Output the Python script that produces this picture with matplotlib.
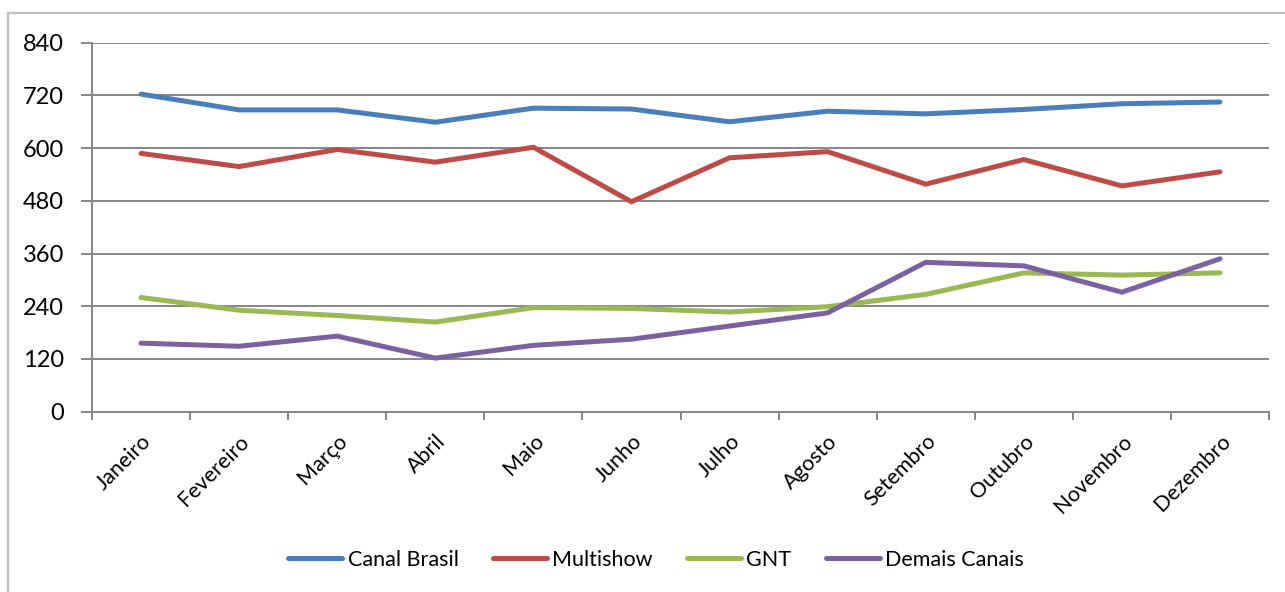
import matplotlib
matplotlib.use("Agg")
import matplotlib.pyplot as plt
from matplotlib.patches import Rectangle
from matplotlib.transforms import ScaledTranslation
import numpy as np

months = ["Janeiro", "Fevereiro", "Março", "Abril", "Maio", "Junho",
          "Julho", "Agosto", "Setembro", "Outubro", "Novembro", "Dezembro"]
canal_brasil = [723, 687, 687, 659, 691, 689, 660, 684, 678, 688, 701, 705]
multishow = [588, 558, 597, 568, 602, 478, 578, 592, 518, 574, 514, 546]
gnt = [260, 231, 219, 204, 237, 235, 227, 239, 267, 316, 311, 316]
demais = [156, 149, 172, 122, 151, 165, 195, 225, 340, 332, 272, 348]
series_names = ["Canal Brasil", "Multishow", "GNT", "Demais Canais"]
colors = ["#4a7ebb", "#be4b48", "#98b954", "#7d60a0"]
yticks = [0, 120, 240, 360, 480, 600, 720, 840]

plt.rcParams['font.family'] = ['Lato', 'DejaVu Sans']

W, H = 1285, 592
fig = plt.figure(figsize=(W/100, H/100), dpi=100)
ax = fig.add_axes([92/W, 1 - 411.7/H, (1269-92)/W, (411.7-42.7)/H])

x = np.arange(len(months)) + 0.5
for vals, name, c in zip([canal_brasil, multishow, gnt, demais], series_names, colors):
    ax.plot(x, vals, color=c, lw=3.6, label=name, solid_capstyle='round', solid_joinstyle='miter')

ax.set_xlim(0, 12)
ax.set_ylim(0, 840)
ax.set_yticks(yticks)
ax.set_yticklabels([str(v) for v in yticks], fontsize=17)
ax.yaxis.grid(True, color="#868686", lw=1.4)
ax.set_axisbelow(True)

ax.set_xticks(x)
labels = ax.set_xticklabels(months, rotation=45, ha='right', va='top', rotation_mode='anchor', fontsize=15.5)
shift = ScaledTranslation(-4/100, 0, fig.dpi_scale_trans)
for lb in labels:
    lb.set_transform(lb.get_transform() + shift)
ax.set_xticks(np.arange(0, 13), minor=True)
ax.tick_params(axis='x', which='major', length=0, pad=14)
ax.tick_params(axis='x', which='minor', length=6, width=1.4, color="#868686", direction='out')
ax.tick_params(axis='y', length=8, width=1.4, color="#868686", pad=12)

for s in ['top', 'right']:
    ax.spines[s].set_visible(False)
for s in ['left', 'bottom']:
    ax.spines[s].set_color("#868686")
    ax.spines[s].set_linewidth(1.4)

leg = fig.legend(loc='center', bbox_to_anchor=(656/W, 1 - 560/H), ncol=4, frameon=False,
                 fontsize=15.5, handlelength=2.5, columnspacing=1.6, handletextpad=0.25)

fig.patches.append(Rectangle((8/W, -0.1), 1.2, (H-13)/H + 0.1, transform=fig.transFigure,
                             fill=False, edgecolor="#bfbfbf", lw=1.6))

fig.savefig("out.png", dpi=100, facecolor='white')
